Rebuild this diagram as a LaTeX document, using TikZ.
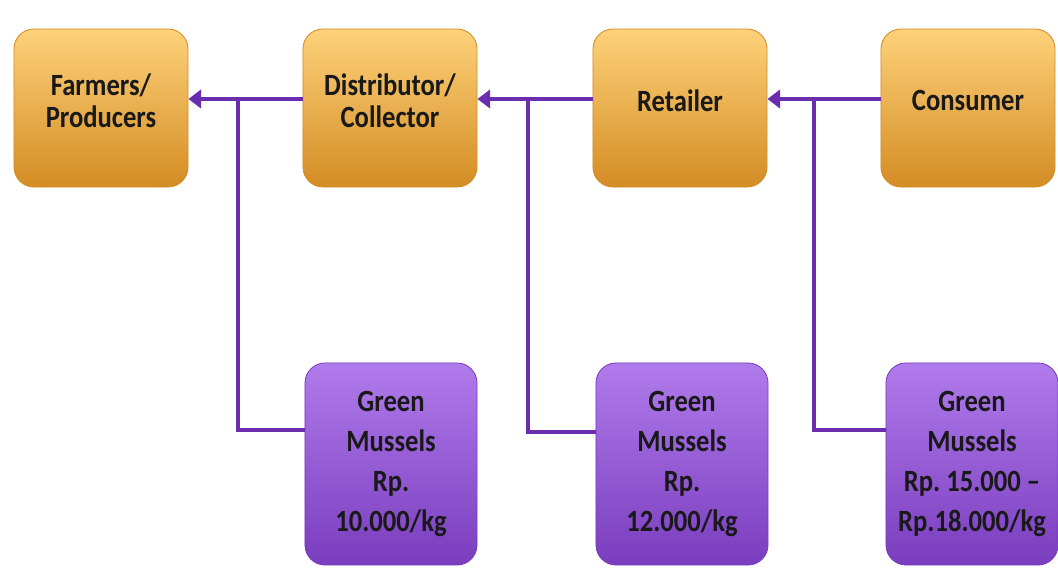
\documentclass[tikz,border=0pt]{standalone}
\usepackage{fontspec}
\setmainfont[FakeStretch=0.86]{Carlito}
\usetikzlibrary{arrows.meta}

\definecolor{boxorange}{HTML}{FCC65A}
\definecolor{boxorangetop}{HTML}{FDD27A}
\definecolor{boxorangedark}{HTML}{D48C24}
\definecolor{boxpurple}{HTML}{A466E6}
\definecolor{boxpurpletop}{HTML}{B07BEB}
\definecolor{boxpurpledark}{HTML}{7A3DBE}
\definecolor{linkpurple}{HTML}{6A2DAE}

\tikzset{
	actor/.style={rounded corners=0.5cm, top color=boxorangetop, middle color=boxorange, bottom color=boxorangedark,
		draw=boxorangedark, line width=0.6pt, minimum width=4.35cm, minimum height=3.95cm,
		align=center, font=\fontsize{22}{23}\selectfont\bfseries, text=black!90},
	price/.style={rounded corners=0.5cm, top color=boxpurpletop, middle color=boxpurple, bottom color=boxpurpledark,
		draw=boxpurpledark, line width=0.6pt, minimum width=4.3cm, minimum height=5.05cm,
		align=center, font=\fontsize{22}{28.5}\selectfont\bfseries, text=black!90},
	link/.style={draw=linkpurple, line width=3.4pt},
	vlink/.style={draw=linkpurple, line width=2.8pt}
}

\begin{document}
\begin{tikzpicture}[x=0.025cm,y=-0.025cm]
	\useasboundingbox (0,0) rectangle (1058,572);

	% chain of actors
	\node[actor] (farm) at (101,108) {Farmers/\\Producers\\[-19pt]\strut};
	\node[actor] (dist) at (390,108) {Distributor/\\Collector\\[-19pt]\strut};
	\node[actor] (ret)  at (680,108) {Retailer\\[-19pt]\strut};
	\node[actor] (cons) at (968,108) {Consumer\\[-19pt]\strut};

	% prices
	\node[price] (p1) at (391,464) {Green\\Mussels\\Rp.\\10.000/kg};
	\node[price] (p2) at (682,464) {Green\\Mussels\\Rp.\\12.000/kg};
	\node[price] (p3) at (972,464) {Green\\Mussels\\Rp.\ 15.000 --\\Rp.18.000/kg};

	\coordinate (j1) at (238,99);
	\coordinate (j2) at (528,99);
	\coordinate (j3) at (814,99);

	\draw[link,-{Triangle[length=9pt,width=13pt]}] ([yshift=0.225cm]dist.west) -- ([yshift=0.225cm]farm.east);
	\draw[link,-{Triangle[length=9pt,width=13pt]}] ([yshift=0.225cm]ret.west) -- ([yshift=0.225cm]dist.east);
	\draw[link,-{Triangle[length=9pt,width=13pt]}] ([yshift=0.225cm]cons.west) -- ([yshift=0.225cm]ret.east);

	\draw[vlink] ([yshift=0.85cm]p1.west) -| (j1);
	\draw[vlink] ([yshift=0.8cm]p2.west) -| (j2);
	\draw[vlink] ([yshift=0.85cm]p3.west) -| (j3);
\end{tikzpicture}
\end{document}
